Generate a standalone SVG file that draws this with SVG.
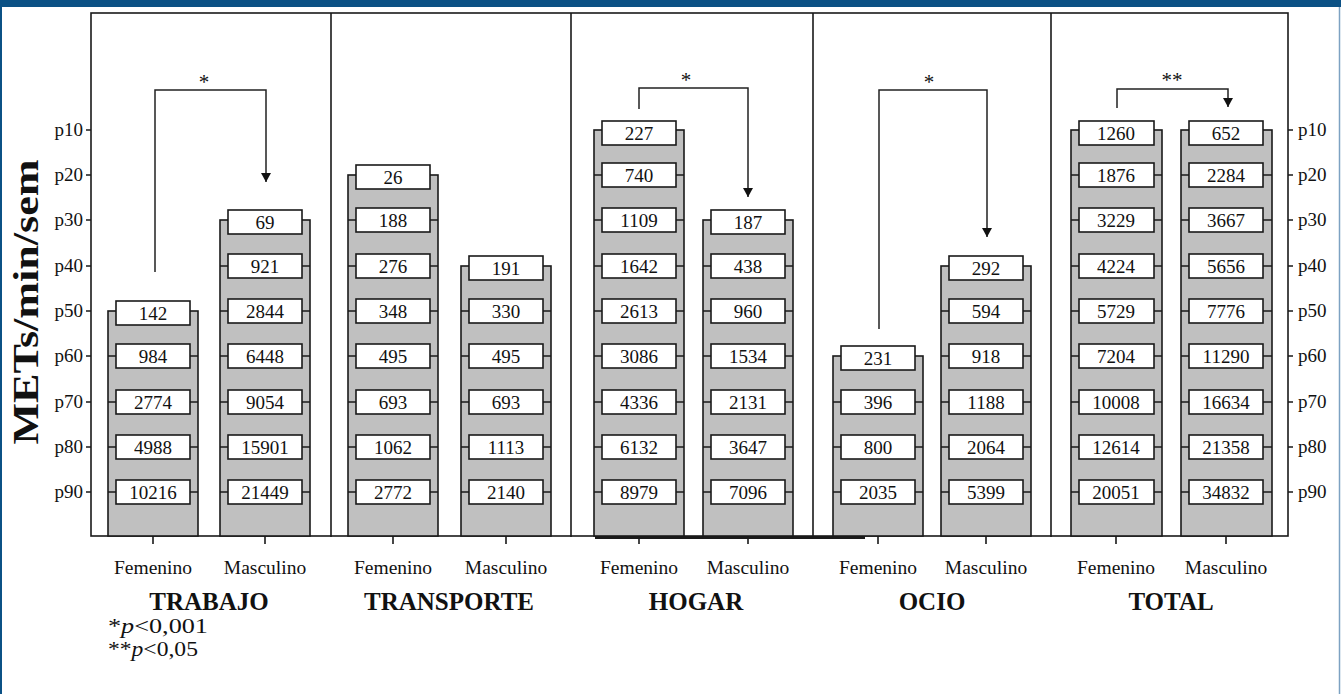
<svg xmlns="http://www.w3.org/2000/svg" width="1341" height="694" viewBox="0 0 1341 694">
<defs>
<style>
.bar{fill:#c0c0c0;stroke:#1a1a1a;stroke-width:1.6}
.box{fill:#fff;stroke:#1a1a1a;stroke-width:1.6}
.tk{stroke:#1a1a1a;stroke-width:1.6;fill:none}
.ln{stroke:#222;stroke-width:1.5;fill:none}
.num{font-family:"Liberation Serif",serif;font-size:19px;text-anchor:middle;fill:#111}
.pl{font-family:"Liberation Serif",serif;font-size:19px;fill:#111}
.cat{font-family:"Liberation Serif",serif;font-size:19.5px;text-anchor:middle;fill:#111}
.grp{font-family:"Liberation Serif",serif;font-size:25px;font-weight:bold;text-anchor:middle;fill:#111}
.star{font-family:"Liberation Serif",serif;font-size:21px;text-anchor:middle;fill:#111}
.leg{font-family:"Liberation Serif",serif;font-size:22px;fill:#111}
</style>
<marker id="arr" markerWidth="9" markerHeight="10" refX="9" refY="5" orient="auto" markerUnits="userSpaceOnUse" viewBox="0 0 9 10">
<path d="M0,0 L9,5 L0,10 z" fill="#111"/>
</marker>
</defs>
<rect width="1341" height="694" fill="#fff"/>
<rect x="0" y="0" width="1341" height="7" fill="#0b5185"/>
<rect x="0" y="0" width="2" height="694" fill="#0b5185"/>
<line x1="1339.5" y1="7" x2="1339.5" y2="694" stroke="#7da2c2" stroke-width="1.5"/>

<g id="axes">
<rect x="91" y="13" width="1197" height="523" fill="none" stroke="#1a1a1a" stroke-width="1.6"/>
<path class="tk" d="M331 13V537M571 13V537M813 13V537M1051 13V537"/>
<path class="tk" d="M86 130h5M86 175h5M86 220h5M86 266h5M86 311h5M86 356h5M86 402h5M86 447h5M86 492h5"/>
<path class="tk" d="M1288 130h5M1288 175h5M1288 220h5M1288 266h5M1288 311h5M1288 356h5M1288 402h5M1288 447h5M1288 492h5"/>
<path class="tk" d="M153 536v8M265 536v8M393 536v8M506 536v8M639 536v8M748 536v8M878 536v8M986 536v8M1116 536v8M1226 536v8"/>
<path d="M595 537.5H865" stroke="#1a1a1a" stroke-width="3"/>
<g class="pl" text-anchor="end">
<text x="83" y="136">p10</text><text x="83" y="181">p20</text><text x="83" y="226">p30</text><text x="83" y="272">p40</text><text x="83" y="317">p50</text><text x="83" y="362">p60</text><text x="83" y="408">p70</text><text x="83" y="453">p80</text><text x="83" y="498">p90</text>
</g>
<g class="pl">
<text x="1298" y="136">p10</text><text x="1298" y="181">p20</text><text x="1298" y="226">p30</text><text x="1298" y="272">p40</text><text x="1298" y="317">p50</text><text x="1298" y="362">p60</text><text x="1298" y="408">p70</text><text x="1298" y="453">p80</text><text x="1298" y="498">p90</text>
</g>
<text transform="translate(38,302) rotate(-90)" font-family="Liberation Serif,serif" font-size="36" font-weight="bold" text-anchor="middle" textLength="285" lengthAdjust="spacingAndGlyphs" fill="#111">METs/min/sem</text>
</g>

<g id="trabajo-fem">
<rect class="bar" x="108" y="311" width="90" height="225"/>
<path class="tk" d="M108 356h90M108 402h90M108 447h90M108 492h90"/>
<rect class="box" x="116" y="301" width="74" height="24"/><text class="num" x="153" y="319.5">142</text>
<rect class="box" x="116" y="344" width="74" height="24"/><text class="num" x="153" y="362.5">984</text>
<rect class="box" x="116" y="390" width="74" height="24"/><text class="num" x="153" y="408.5">2774</text>
<rect class="box" x="116" y="435" width="74" height="24"/><text class="num" x="153" y="453.5">4988</text>
<rect class="box" x="116" y="480" width="74" height="24"/><text class="num" x="153" y="498.5">10216</text>
</g>
<g id="trabajo-masc">
<rect class="bar" x="220" y="220" width="90" height="316"/>
<path class="tk" d="M220 266h90M220 311h90M220 356h90M220 402h90M220 447h90M220 492h90"/>
<rect class="box" x="228" y="210" width="74" height="24"/><text class="num" x="265" y="228.5">69</text>
<rect class="box" x="228" y="254" width="74" height="24"/><text class="num" x="265" y="272.5">921</text>
<rect class="box" x="228" y="299" width="74" height="24"/><text class="num" x="265" y="317.5">2844</text>
<rect class="box" x="228" y="344" width="74" height="24"/><text class="num" x="265" y="362.5">6448</text>
<rect class="box" x="228" y="390" width="74" height="24"/><text class="num" x="265" y="408.5">9054</text>
<rect class="box" x="228" y="435" width="74" height="24"/><text class="num" x="265" y="453.5">15901</text>
<rect class="box" x="228" y="480" width="74" height="24"/><text class="num" x="265" y="498.5">21449</text>
</g>

<g id="transporte-fem">
<rect class="bar" x="348" y="175" width="90" height="361"/>
<path class="tk" d="M348 220h90M348 266h90M348 311h90M348 356h90M348 402h90M348 447h90M348 492h90"/>
<rect class="box" x="356" y="165" width="74" height="24"/><text class="num" x="393" y="183.5">26</text>
<rect class="box" x="356" y="208" width="74" height="24"/><text class="num" x="393" y="226.5">188</text>
<rect class="box" x="356" y="254" width="74" height="24"/><text class="num" x="393" y="272.5">276</text>
<rect class="box" x="356" y="299" width="74" height="24"/><text class="num" x="393" y="317.5">348</text>
<rect class="box" x="356" y="344" width="74" height="24"/><text class="num" x="393" y="362.5">495</text>
<rect class="box" x="356" y="390" width="74" height="24"/><text class="num" x="393" y="408.5">693</text>
<rect class="box" x="356" y="435" width="74" height="24"/><text class="num" x="393" y="453.5">1062</text>
<rect class="box" x="356" y="480" width="74" height="24"/><text class="num" x="393" y="498.5">2772</text>
</g>
<g id="transporte-masc">
<rect class="bar" x="461" y="266" width="90" height="270"/>
<path class="tk" d="M461 311h90M461 356h90M461 402h90M461 447h90M461 492h90"/>
<rect class="box" x="469" y="256" width="74" height="24"/><text class="num" x="506" y="274.5">191</text>
<rect class="box" x="469" y="299" width="74" height="24"/><text class="num" x="506" y="317.5">330</text>
<rect class="box" x="469" y="344" width="74" height="24"/><text class="num" x="506" y="362.5">495</text>
<rect class="box" x="469" y="390" width="74" height="24"/><text class="num" x="506" y="408.5">693</text>
<rect class="box" x="469" y="435" width="74" height="24"/><text class="num" x="506" y="453.5">1113</text>
<rect class="box" x="469" y="480" width="74" height="24"/><text class="num" x="506" y="498.5">2140</text>
</g>

<g id="hogar-fem">
<rect class="bar" x="594" y="130" width="90" height="406"/>
<path class="tk" d="M594 175h90M594 220h90M594 266h90M594 311h90M594 356h90M594 402h90M594 447h90M594 492h90"/>
<rect class="box" x="602" y="121" width="74" height="24"/><text class="num" x="639" y="139.5">227</text>
<rect class="box" x="602" y="163" width="74" height="24"/><text class="num" x="639" y="181.5">740</text>
<rect class="box" x="602" y="208" width="74" height="24"/><text class="num" x="639" y="226.5">1109</text>
<rect class="box" x="602" y="254" width="74" height="24"/><text class="num" x="639" y="272.5">1642</text>
<rect class="box" x="602" y="299" width="74" height="24"/><text class="num" x="639" y="317.5">2613</text>
<rect class="box" x="602" y="344" width="74" height="24"/><text class="num" x="639" y="362.5">3086</text>
<rect class="box" x="602" y="390" width="74" height="24"/><text class="num" x="639" y="408.5">4336</text>
<rect class="box" x="602" y="435" width="74" height="24"/><text class="num" x="639" y="453.5">6132</text>
<rect class="box" x="602" y="480" width="74" height="24"/><text class="num" x="639" y="498.5">8979</text>
</g>
<g id="hogar-masc">
<rect class="bar" x="703" y="220" width="90" height="316"/>
<path class="tk" d="M703 266h90M703 311h90M703 356h90M703 402h90M703 447h90M703 492h90"/>
<rect class="box" x="711" y="210" width="74" height="24"/><text class="num" x="748" y="228.5">187</text>
<rect class="box" x="711" y="254" width="74" height="24"/><text class="num" x="748" y="272.5">438</text>
<rect class="box" x="711" y="299" width="74" height="24"/><text class="num" x="748" y="317.5">960</text>
<rect class="box" x="711" y="344" width="74" height="24"/><text class="num" x="748" y="362.5">1534</text>
<rect class="box" x="711" y="390" width="74" height="24"/><text class="num" x="748" y="408.5">2131</text>
<rect class="box" x="711" y="435" width="74" height="24"/><text class="num" x="748" y="453.5">3647</text>
<rect class="box" x="711" y="480" width="74" height="24"/><text class="num" x="748" y="498.5">7096</text>
</g>

<g id="ocio-fem">
<rect class="bar" x="833" y="356" width="90" height="180"/>
<path class="tk" d="M833 402h90M833 447h90M833 492h90"/>
<rect class="box" x="841" y="346" width="74" height="24"/><text class="num" x="878" y="364.5">231</text>
<rect class="box" x="841" y="390" width="74" height="24"/><text class="num" x="878" y="408.5">396</text>
<rect class="box" x="841" y="435" width="74" height="24"/><text class="num" x="878" y="453.5">800</text>
<rect class="box" x="841" y="480" width="74" height="24"/><text class="num" x="878" y="498.5">2035</text>
</g>
<g id="ocio-masc">
<rect class="bar" x="941" y="266" width="90" height="270"/>
<path class="tk" d="M941 311h90M941 356h90M941 402h90M941 447h90M941 492h90"/>
<rect class="box" x="949" y="256" width="74" height="24"/><text class="num" x="986" y="274.5">292</text>
<rect class="box" x="949" y="299" width="74" height="24"/><text class="num" x="986" y="317.5">594</text>
<rect class="box" x="949" y="344" width="74" height="24"/><text class="num" x="986" y="362.5">918</text>
<rect class="box" x="949" y="390" width="74" height="24"/><text class="num" x="986" y="408.5">1188</text>
<rect class="box" x="949" y="435" width="74" height="24"/><text class="num" x="986" y="453.5">2064</text>
<rect class="box" x="949" y="480" width="74" height="24"/><text class="num" x="986" y="498.5">5399</text>
</g>

<g id="total-fem">
<rect class="bar" x="1071" y="130" width="91" height="406"/>
<path class="tk" d="M1071 175h91M1071 220h91M1071 266h91M1071 311h91M1071 356h91M1071 402h91M1071 447h91M1071 492h91"/>
<rect class="box" x="1079" y="121" width="75" height="24"/><text class="num" x="1116" y="139.5">1260</text>
<rect class="box" x="1079" y="163" width="75" height="24"/><text class="num" x="1116" y="181.5">1876</text>
<rect class="box" x="1079" y="208" width="75" height="24"/><text class="num" x="1116" y="226.5">3229</text>
<rect class="box" x="1079" y="254" width="75" height="24"/><text class="num" x="1116" y="272.5">4224</text>
<rect class="box" x="1079" y="299" width="75" height="24"/><text class="num" x="1116" y="317.5">5729</text>
<rect class="box" x="1079" y="344" width="75" height="24"/><text class="num" x="1116" y="362.5">7204</text>
<rect class="box" x="1079" y="390" width="75" height="24"/><text class="num" x="1116" y="408.5">10008</text>
<rect class="box" x="1079" y="435" width="75" height="24"/><text class="num" x="1116" y="453.5">12614</text>
<rect class="box" x="1079" y="480" width="75" height="24"/><text class="num" x="1116" y="498.5">20051</text>
</g>
<g id="total-masc">
<rect class="bar" x="1181" y="130" width="91" height="406"/>
<path class="tk" d="M1181 175h91M1181 220h91M1181 266h91M1181 311h91M1181 356h91M1181 402h91M1181 447h91M1181 492h91"/>
<rect class="box" x="1189" y="121" width="74" height="24"/><text class="num" x="1226" y="139.5">652</text>
<rect class="box" x="1189" y="163" width="74" height="24"/><text class="num" x="1226" y="181.5">2284</text>
<rect class="box" x="1189" y="208" width="74" height="24"/><text class="num" x="1226" y="226.5">3667</text>
<rect class="box" x="1189" y="254" width="74" height="24"/><text class="num" x="1226" y="272.5">5656</text>
<rect class="box" x="1189" y="299" width="74" height="24"/><text class="num" x="1226" y="317.5">7776</text>
<rect class="box" x="1189" y="344" width="74" height="24"/><text class="num" x="1226" y="362.5">11290</text>
<rect class="box" x="1189" y="390" width="74" height="24"/><text class="num" x="1226" y="408.5">16634</text>
<rect class="box" x="1189" y="435" width="74" height="24"/><text class="num" x="1226" y="453.5">21358</text>
<rect class="box" x="1189" y="480" width="74" height="24"/><text class="num" x="1226" y="498.5">34832</text>
</g>

<g id="connectors">
<path class="ln" d="M155 272V90H266V182" marker-end="url(#arr)"/>
<path class="ln" d="M639 109V88H748V197" marker-end="url(#arr)"/>
<path class="ln" d="M879 329V90H987V237" marker-end="url(#arr)"/>
<path class="ln" d="M1117 108V89H1228V107" marker-end="url(#arr)"/>
<text class="star" x="204" y="89">*</text>
<text class="star" x="686" y="87">*</text>
<text class="star" x="929" y="89">*</text>
<text class="star" x="1172" y="87">**</text>
</g>

<g id="labels">
<text class="cat" x="153" y="574">Femenino</text><text class="cat" x="265" y="574">Masculino</text>
<text class="cat" x="393" y="574">Femenino</text><text class="cat" x="506" y="574">Masculino</text>
<text class="cat" x="639" y="574">Femenino</text><text class="cat" x="748" y="574">Masculino</text>
<text class="cat" x="878" y="574">Femenino</text><text class="cat" x="986" y="574">Masculino</text>
<text class="cat" x="1116" y="574">Femenino</text><text class="cat" x="1226" y="574">Masculino</text>
<text class="grp" x="209" y="610">TRABAJO</text>
<text class="grp" x="449" y="610">TRANSPORTE</text>
<text class="grp" x="696" y="610">HOGAR</text>
<text class="grp" x="932" y="610">OCIO</text>
<text class="grp" x="1171" y="610">TOTAL</text>
</g>

<g id="legend">
<text class="leg" x="108" y="633" textLength="100" lengthAdjust="spacingAndGlyphs">*<tspan font-style="italic">p</tspan>&lt;0,001</text>
<text class="leg" x="108" y="656" textLength="90" lengthAdjust="spacingAndGlyphs">**<tspan font-style="italic">p</tspan>&lt;0,05</text>
</g>
</svg>
